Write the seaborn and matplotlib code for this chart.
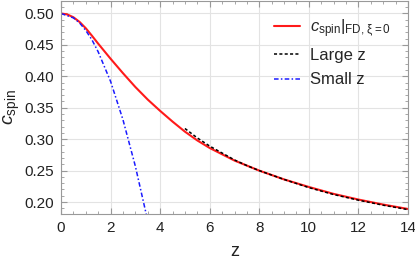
import matplotlib
matplotlib.use("Agg")
import matplotlib.pyplot as plt
import seaborn as sns
import pandas as pd
from matplotlib.ticker import MultipleLocator

# Data
z_fd = [0, 0.25, 0.5, 0.75, 1, 1.25, 1.5, 1.75, 2, 2.5, 3, 3.5, 4, 4.5, 5, 5.5, 6, 6.5, 7, 7.5,
        8, 9, 10, 11, 12, 13, 14]
c_fd = [0.500, 0.4985, 0.494, 0.4865, 0.4765, 0.4645, 0.452, 0.440, 0.428, 0.405, 0.383,
        0.363, 0.345, 0.328, 0.312, 0.298, 0.286, 0.276, 0.266, 0.258, 0.250, 0.236, 0.224,
        0.213, 0.204, 0.196, 0.189]

z_large = [5, 5.5, 6, 6.5, 7, 7.5, 8, 9, 10, 11, 12, 13, 14]
c_large = [0.317, 0.302, 0.289, 0.278, 0.267, 0.258, 0.250, 0.236, 0.223, 0.212, 0.203, 0.195, 0.188]

z_small = [0, 0.5, 0.75, 1.0, 1.25, 1.5, 2.0, 2.5, 3.0, 3.5]
c_small = [0.500, 0.493, 0.485, 0.473, 0.458, 0.439, 0.392, 0.331, 0.257, 0.170]

x_ticks = [0, 2, 4, 6, 8, 10, 12, 14]
y_ticks = [0.20, 0.25, 0.30, 0.35, 0.40, 0.45, 0.50]

sns.set_theme(style="ticks")
plt.rcParams['font.family'] = ['Liberation Sans', 'DejaVu Sans']
plt.rcParams['mathtext.fontset'] = 'custom'
plt.rcParams['mathtext.rm'] = 'Liberation Sans'
plt.rcParams['mathtext.it'] = 'Liberation Sans:italic'

fig = plt.figure(figsize=(4.15, 2.6), dpi=100)
ax = fig.add_axes([61/415, 46/260, (408-61)/415, 214/260 - 0.002])

df_fd = pd.DataFrame({"z": z_fd, "c": c_fd})
df_large = pd.DataFrame({"z": z_large, "c": c_large})
df_small = pd.DataFrame({"z": z_small, "c": c_small})

sns.lineplot(data=df_fd, x="z", y="c", ax=ax, color="#ff1a1a", lw=1.5,
             label=r"$c_{\rm spin}|_{\rm FD,\,\xi=0}$")
sns.lineplot(data=df_large, x="z", y="c", ax=ax, color="black", lw=1.1,
             linestyle=(0, (2, 1.5)), label="Large z")
sns.lineplot(data=df_small, x="z", y="c", ax=ax, color="#1a1aff", lw=1.1,
             linestyle=(0, (3, 1.5, 1, 1.5)), label="Small z")

ax.set_xlim(0, 14)
ax.set_ylim(0.181, 0.5206)
ax.set_xticks(x_ticks)
ax.set_yticks(y_ticks)
ax.set_xticklabels([str(t) for t in x_ticks])
ax.set_yticklabels([f"{t:.2f}" for t in y_ticks])
ax.xaxis.set_minor_locator(MultipleLocator(0.5))
ax.yaxis.set_minor_locator(MultipleLocator(0.01))
ax.grid(True, which="major", color="#e3e3e3", lw=0.8)
ax.set_axisbelow(True)
for s in ax.spines.values():
    s.set_color("#999999")
    s.set_linewidth(0.8)
ax.tick_params(which="both", direction="in", top=True, right=True, color="#999999",
               labelsize=11, labelcolor="#222222")
ax.tick_params(which="major", length=4, width=0.8, pad=5)
ax.tick_params(which="minor", length=2, width=0.6)

ax.set_xlabel("z", fontsize=13, labelpad=6, color="#222222")
ax.set_ylabel(r"$c_{\rm spin}$", fontsize=14, labelpad=2, color="#222222")

leg = ax.legend(loc="upper right", frameon=False, fontsize=12, handlelength=1.6,
                labelspacing=0.55, borderaxespad=0.6, handletextpad=0.6)

fig.savefig("out.png", dpi=100)
